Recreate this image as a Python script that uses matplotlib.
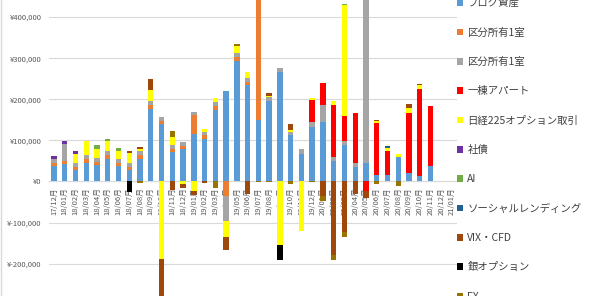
import numpy as np
import matplotlib
matplotlib.use("Agg")
import matplotlib.pyplot as plt
from matplotlib.patches import Patch
from matplotlib.lines import Line2D
from matplotlib.ticker import FuncFormatter, MultipleLocator

plt.rcParams['font.family'] = ['Noto Sans CJK JP', 'DejaVu Sans']

months = ["17/12月",
          "18/01月", "18/02月", "18/03月", "18/04月", "18/05月", "18/06月",
          "18/07月", "18/08月", "18/09月", "18/10月", "18/11月", "18/12月",
          "19/01月", "19/02月", "19/03月", "19/04月", "19/05月", "19/06月",
          "19/07月", "19/08月", "19/09月", "19/10月", "19/11月", "19/12月",
          "20/01月", "20/02月", "20/03月", "20/04月", "20/05月", "20/06月",
          "20/07月", "20/08月", "20/09月", "20/10月", "20/11月", "20/12月",
          "21/01月"]

# values in thousand yen
blog = [37, 42, 28, 46, 39, 55, 38, 28, 55, 177, 140, 72, 79,
        115, 103, 174, 221, 293, 234, 149, 196, 267, 113, 66, 133,
        144, 50, 89, 35, 44, 16, 16, 60, 21, 14, 38, 0, 0]
kubun_a = [8, 7, 7, 9, 9, 10, 8, 8, 9, 9, 8, 8, 8,
           46, 10, 9, -35, 10, 8, 350, 0, 0, 0, 0, 0,
           0, 0, 0, 0, 0, 0, 0, 0, 0, 0, 0, 0, 0]
kubun_b = [10, 43, 10, 10, 10, 10, 9, 10, 10, 10, 8, 10, 10,
           8, 8, 10, -60, 10, 10, 0, 10, 10, 8, 12, 11,
           42, 10, 10, 10, 450, 0, 0, 0, 0, 0, 0, 0, 0]
apart = [0, 0, 0, 0, 0, 0, 0, 0, 0, 0, 0, 0, 0,
         0, 0, 0, 0, 0, 0, 0, 0, 0, 0, 0, 54,
         54, 127, 60, 122, -23, 126, 57, 0, 146, 210, 146, 0, 0]
nikkei = [0, 0, 22, 34, 20, 23, 19, 24, 6, 27, -188, 18, -5,
          -23, 6, 11, -39, 17, 15, 0, 3, -155, 4, -120, 6,
          0, 9, 270, 0, 0, 4, 8, 7, 11, 10, 0, 0, 0]
shasai = [8, 7, 8, 0, 0, 0, 0, 0, 0, 0, 0, 0, 0,
          0, 0, 0, 0, 0, 0, 0, 0, 0, 0, 0, 0,
          0, 0, 0, 0, 0, 0, 0, 0, 0, 0, 0, 0, 0]
ai = [0, 0, 0, 0, 10, 6, 7, 0, 0, 0, 0, 0, 0,
      0, 0, 0, 0, 0, 0, 0, 0, 0, 0, 0, 0,
      0, 0, 3, 0, 0, 0, 0, 0, 0, 0, 0, 0, 0]
social = [0, 0, 0, 0, 0, 0, 0, 0, 0, 0, 0, 0, 0,
          0, 0, 0, 0, 0, 0, 0, 0, 0, 0, 0, 0,
          0, 0, 0, 0, 0, 0, 6, 0, 0, 0, 0, 0, 0]
vix = [0, 0, 0, 0, 0, 0, 0, 5, 4, 27, -110, -20, -12,
       -9, -4, 0, -33, 0, -31, 0, 7, 0, 15, 0, 0,
       -35, -180, -124, -30, -16, 4, 0, 0, 10, 4, 0, 0, 0]
silver = [0, 0, 0, 0, 0, 0, 0, -25, 0, 0, 0, 0, 0,
          0, 0, 0, 0, 0, 0, 0, 0, -36, 0, 0, 0,
          0, 0, 0, 0, 0, 0, 0, 0, 0, 0, 0, 0, 0]
fx = [0, 0, 0, 0, 0, 0, 0, 0, -4, 0, 0, 14, 0,
      0, 0, -17, 0, 4, 0, -2, -2, 0, -5, 0, -2,
      -13, -11, -10, 0, 0, -5, 0, -10, 0, 0, 0, 0, 0]

names = ["ブログ資産", "区分所有1室", "区分所有1室", "一棟アパート",
         "日経225オプション取引", "社債", "AI", "ソーシャルレンディング",
         "VIX・CFD", "銀オプション", "FX"]
series = [blog, kubun_a, kubun_b, apart, nikkei, shasai, ai, social,
          vix, silver, fx]
colors = ["#5B9BD5", "#ED7D31", "#A5A5A5", "#FF0000", "#FFFF00", "#7030A0",
          "#70AD47", "#255E91", "#9E480E", "#000000", "#997300"]

W, H = 592, 296
fig = plt.figure(figsize=(W / 100, H / 100), dpi=100)
ax = fig.add_axes([48.6 / W, 0, 408.8 / W, 1])

x = np.arange(len(months))
pos = np.zeros(len(months))
neg = np.zeros(len(months))
for vals, col in zip(series, colors):
    v = np.array(vals, dtype=float) * 1000
    base = np.where(v >= 0, pos, neg)
    ax.bar(x, v, bottom=base, width=0.5, color=col, linewidth=0, zorder=3)
    pos = pos + np.where(v > 0, v, 0)
    neg = neg + np.where(v < 0, v, 0)

ax.set_xlim(-0.5, len(months) - 0.5)
ax.set_ylim(-278600, 441600)
ax.yaxis.set_major_locator(MultipleLocator(100000))
ax.yaxis.set_major_formatter(FuncFormatter(lambda v, p: f"¥{int(round(v)):,}"))
ax.grid(axis='y', color='#D9D9D9', linewidth=0.8, zorder=0)
ax.set_axisbelow(True)

for s in ['top', 'right', 'left']:
    ax.spines[s].set_visible(False)
ax.spines['bottom'].set_position(('data', 0))
ax.spines['bottom'].set_color('#D9D9D9')
ax.spines['bottom'].set_linewidth(0.8)
ax.spines['bottom'].set_zorder(2)

ax.set_xticks(x)
ax.set_xticklabels(months, rotation=90)
ax.tick_params(axis='x', length=0, pad=4, labelsize=5.5, labelcolor='#595959')
ax.tick_params(axis='y', length=0, pad=5, labelsize=5.5, labelcolor='#595959')
ax.patch.set_alpha(0)

# legend runs past the top and bottom edges, as in the original screenshot
handles = [Patch(facecolor=c, edgecolor='none') for c in colors]
fig.legend(handles, names, loc='upper left',
           bbox_to_anchor=(457 / W, (H + 2) / H), frameon=False,
           fontsize=7.5, labelcolor='#404040', handlelength=0.6,
           handleheight=0.6, handletextpad=0.4, labelspacing=1.85,
           borderaxespad=0, borderpad=0)

fig.add_artist(Line2D([0.8 / W, 0.8 / W], [0, 1], color='#D9D9D9',
                      linewidth=1))

fig.savefig("out.png", dpi=100)
